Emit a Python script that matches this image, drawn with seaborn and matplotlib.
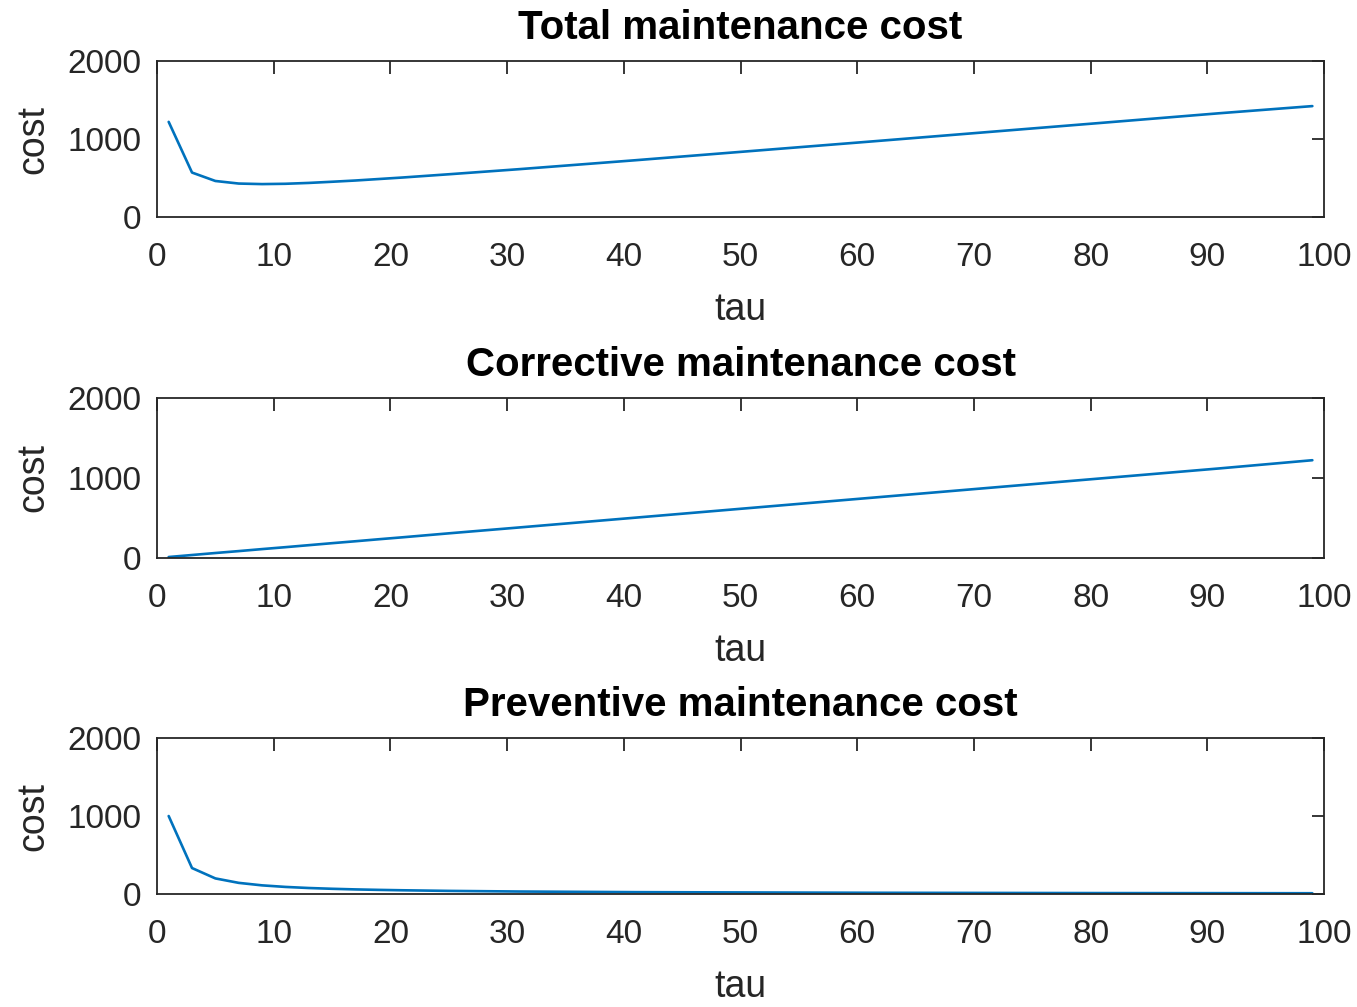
import matplotlib
matplotlib.use("Agg")
import matplotlib.pyplot as plt
import pandas as pd
import seaborn as sns

# Replacement interval (tau) and the three cost curves
tau = [1, 3, 5, 7, 9, 11, 13, 15, 17, 19, 21, 25, 31, 41, 51, 61, 71, 81, 91, 99]
total_cost = [1220, 570, 462, 429, 422, 426, 437, 452, 468, 487, 506, 548, 613,
              728, 847, 966, 1087, 1208, 1330, 1422]
corrective_cost = [12, 37, 62, 86, 111, 135, 160, 185, 209, 234, 258, 308, 381,
                   504, 627, 750, 873, 996, 1119, 1222]
preventive_cost = [1000, 333, 200, 143, 111, 91, 77, 67, 59, 53, 48, 40, 32,
                   24, 20, 16, 14, 12, 11, 10]

titles = ["Total maintenance cost", "Corrective maintenance cost",
          "Preventive maintenance cost"]
x_ticks = list(range(0, 101, 10))
y_ticks = [0, 1000, 2000]

df = pd.DataFrame({"tau": tau, "total": total_cost,
                   "corrective": corrective_cost, "preventive": preventive_cost})

sns.set_theme(style="white")
plt.rcParams["font.family"] = ["Liberation Sans", "DejaVu Sans"]

ink = "#262626"
line_color = "#0072BD"

fig = plt.figure(figsize=(13.57, 10.07), dpi=100)
positions = [
    (0.1157, 0.7845, 0.8600, 0.1549),
    (0.1157, 0.4459, 0.8600, 0.1589),
    (0.1157, 0.1122, 0.8600, 0.1549),
]

for pos, col, title in zip(positions, ["total", "corrective", "preventive"], titles):
    ax = fig.add_axes(pos)
    sns.lineplot(data=df, x="tau", y=col, ax=ax, color=line_color, linewidth=1.9)
    ax.set_xlim(0, 100)
    ax.set_ylim(0, 2000)
    ax.set_xticks(x_ticks)
    ax.set_yticks(y_ticks)
    ax.tick_params(axis="both", direction="in", length=9, width=1.3,
                   top=True, right=True, labelsize=24, colors=ink)
    ax.tick_params(axis="x", pad=18)
    ax.tick_params(axis="y", pad=11)
    for side in ax.spines.values():
        side.set_visible(True)
        side.set_color(ink)
        side.set_linewidth(1.3)
    ax.set_xlabel("tau", fontsize=27, color=ink, labelpad=14)
    ax.set_ylabel("cost", fontsize=27, color=ink, labelpad=12)
    ax.set_title(title, fontsize=29, fontweight="bold", color="black", pad=16)

fig.savefig("out.png", dpi=100, facecolor="white")
